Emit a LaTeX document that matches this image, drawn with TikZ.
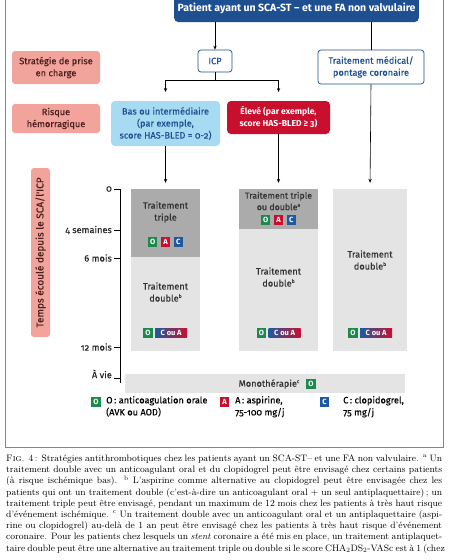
\documentclass[tikz,border=0pt]{standalone}
\usepackage{fontspec}
\setsansfont{Fira Sans}[Numbers=OldStyle]
\newfontfamily\medsans{Fira Sans}[FakeBold=0.3, Numbers=OldStyle]
\usetikzlibrary{arrows.meta,positioning}
\definecolor{framec}{HTML}{8C8C50}
\definecolor{navy}{HTML}{1D4F91}
\definecolor{sky}{HTML}{A7DBF1}
\definecolor{crimson}{HTML}{C8102E}
\definecolor{salmon}{HTML}{F2A39B}
\definecolor{maroon}{HTML}{4A1E1E}
\definecolor{dgrey}{HTML}{ABABAB}
\definecolor{lgrey}{HTML}{E4E4E4}
\definecolor{ogreen}{HTML}{1B8A4B}
\definecolor{ared}{HTML}{C8102E}
\definecolor{cblue}{HTML}{1F5A9E}
\tikzset{t/.style={font=\medsans\fontsize{9.2}{12}\selectfont}}
\tikzset{tb/.style={font=\sffamily\bfseries\fontsize{8.6}{12}\selectfont}}
\tikzset{pinkbox/.style={fill=salmon, text=maroon, rounded corners=3pt, align=center, inner sep=1pt, t}}
\tikzset{navybox/.style={draw=navy, line width=0.7pt, fill=white, text=navy, rounded corners=3pt, align=center, inner sep=1pt, t}}
\tikzset{colbox/.style={inner sep=0pt}}
\tikzset{coltext/.style={align=center, text=black!80, t}}
\tikzset{arr/.style={-{Stealth[length=4pt,width=3.4pt]}, line width=0.6pt}}
\tikzset{badge/.style={text=white, font=\sffamily\bfseries\fontsize{7.5}{7.5}\selectfont, minimum size=9.5pt, inner sep=0.5pt}}
\tikzset{bO/.style={badge, fill=ogreen}}
\tikzset{bA/.style={badge, fill=ared}}
\tikzset{bC/.style={badge, fill=cblue}}
\tikzset{bCA/.style={badge, left color=cblue, right color=ared, minimum width=32pt}}
\tikzset{tick/.style={t, text=black!85, inner sep=0pt}}
\newcommand{\capline}[1]{\makebox[436pt][s]{#1}}
\newcommand{\notemark}[1]{\raisebox{0.75ex}{\fontsize{5}{5}\selectfont #1}}

\begin{document}
\begin{tikzpicture}[x=1pt,y=-1pt]
  \useasboundingbox (0,0) rectangle (449,560);
  \draw [framec, line width=0.8pt] (5,-10) rectangle (443,447);

  % flow chart
  \node [fill=navy, text=white, rounded corners=4pt, minimum width=243pt, minimum height=28pt,
    font=\sffamily\bfseries\fontsize{10.5}{12}\selectfont] (title) at (296.5,8) {Patient ayant un SCA-ST -- et une FA non valvulaire};
  \node [navybox, minimum width=34pt, minimum height=22pt] (icp) at (215,61) {ICP};
  \node [navybox, minimum width=106pt, minimum height=34pt] (medical) at (371,67) {Traitement médical/\\pontage coronaire};
  \node [pinkbox, minimum width=88pt, minimum height=33pt] (strategy) at (56,67.5) {Stratégie de prise\\en charge};
  \node [pinkbox, minimum width=88pt, minimum height=29pt] (risk) at (56,118.5) {Risque\\hémorragique};
  \node [fill=sky, text=navy, rounded corners=4pt, align=center, inner sep=1pt, t,
    minimum width=109pt, minimum height=45pt] (low) at (165.5,123.5) {Bas ou intermédiaire\\(par exemple,\\score HAS-BLED = 0-2)};
  \node [fill=crimson, text=white, rounded corners=4pt, align=center, inner sep=1pt, tb,
    minimum width=103pt, minimum height=33pt] (high) at (278.5,117.5) {Élevé (par exemple,\\score HAS-BLED ≥ 3)};

  \coordinate (split) at (215,80);
  \coordinate (tolow) at (165.5,92);
  \coordinate (tohigh) at (278.5,92);
  \draw [arr] (icp.north |- title.south) -- (icp.north);
  \draw [line width=0.6pt] (medical.north |- title.south) -- (medical.north);
  \draw [line width=0.6pt] (icp.south) -- (split);
  \draw [arr] (split) -| (tolow);
  \draw [arr] (split) -| (tohigh);

  % treatment columns
  \node [colbox, fill=dgrey, minimum width=69pt, minimum height=68pt] (c1top) at (165.5,223) {};
  \node [colbox, fill=lgrey, minimum width=69pt, minimum height=94pt] (c1bot) at (165.5,304) {};
  \node [colbox, fill=dgrey, minimum width=79pt, minimum height=40pt] (c2top) at (278.5,209) {};
  \node [colbox, fill=lgrey, minimum width=79pt, minimum height=122pt] (c2bot) at (278.5,290) {};
  \node [colbox, fill=lgrey, minimum width=74pt, minimum height=162pt] (c3) at (370,270) {};
  \node [colbox, fill=lgrey, minimum width=280pt, minimum height=19pt] (mono) at (265,383.5) {};

  \draw [arr, shorten >=6pt] (low.south) -- (c1top.north);
  \draw [arr, shorten >=6pt] (high.south) -- (c2top.north);
  \draw [arr, shorten >=6pt] (medical.south) -- (c3.north);

  \node [coltext] (c1a) at (165.5,212) {Traitement\\triple};
  \node [bA] (c1A) at (165.5,242) {A};
  \node [bO, left=3pt of c1A] (c1O) {O};
  \node [bC, right=3pt of c1A] (c1C) {C};
  \node [coltext] (c1b) at (165.5,292) {Traitement\\double\notemark{b}};
  \node [bO] (c1O2) at (148,333) {O};
  \node [bCA, right=2pt of c1O2] (c1CA) {C ou A};

  \node [coltext, inner sep=0pt, font=\medsans\fontsize{8.8}{11.5}\selectfont] (c2a) at (278.5,201) {Traitement triple\\ou double\notemark{a}};
  \node [bA] (c2A) at (278.5,220) {A};
  \node [bO, left=3pt of c2A] (c2O) {O};
  \node [bC, right=3pt of c2A] (c2C) {C};
  \node [coltext] (c2b) at (278.5,277) {Traitement\\double\notemark{b}};
  \node [bO] (c2O2) at (261.5,333) {O};
  \node [bCA, right=2pt of c2O2] (c2CA) {C ou A};

  \node [coltext] (c3a) at (370,260) {Traitement\\double\notemark{b}};
  \node [bO] (c3O) at (353,333) {O};
  \node [bCA, right=2pt of c3O] (c3CA) {C ou A};

  \node [coltext] (monot) at (269,384) {Monothérapie\notemark{c}};
  \node [bO] (monoO) at (311,384) {O};

  % time scale
  \node [fill=salmon, text=maroon, rounded corners=3pt, rotate=90, minimum width=169pt, minimum height=19pt,
    inner sep=0pt, font=\medsans\fontsize{10}{12}\selectfont] (time) at (40.5,252.5) {Temps écoulé depuis le SCA/l'ICP};
  \draw [line width=0.6pt] (120,189) -- (120,383);
  \foreach \y/\lab in {189/0, 230/4 semaines, 258/6 mois, 347/12 mois} {
    \draw [line width=0.6pt] (114,\y) -- (120,\y);
    \node [tick, anchor=east] at (112,\y) {\lab};
  }
  \draw [line width=0.6pt] (114,378) -- (120,378);
  \node [tick, anchor=east] (life) at (112,374) {À vie};

  % legend
  \node [bO] (lO) at (96,402) {O};
  \node [t, align=left, anchor=north west, inner sep=0pt] (lOt) at (106,396) {O\,: anticoagulation orale\\(AVK ou AOD)};
  \node [bA] (lA) at (224.5,402) {A};
  \node [t, align=left, anchor=north west, inner sep=0pt] (lAt) at (235,396) {A\,: aspirine,\\75-100 mg/j};
  \node [bC] (lC) at (324.5,402) {C};
  \node [t, align=left, anchor=north west, inner sep=0pt] (lCt) at (343,396) {C\,: clopidogrel,\\75 mg/j};

  % caption
  \node [anchor=north west, inner sep=0pt, align=left, font=\fontsize{9.3}{11.2}\selectfont] (caption) at (6,454.5) {%
    \capline{\textsc{Fig.} 4\,: Stratégies antithrombotiques chez les patients ayant un SCA-ST– et une FA non valvulaire. \textsuperscript{a} Un}\\
    \capline{traitement double avec un anticoagulant oral et du clopidogrel peut être envisagé chez certains patients}\\
    \capline{(à risque ischémique bas). \textsuperscript{b} L'aspirine comme alternative au clopidogrel peut être envisagée chez les}\\
    \capline{patients qui ont un traitement double (c'est-à-dire un anticoagulant oral + un seul antiplaquettaire)\,; un}\\
    \capline{traitement triple peut être envisagé, pendant un maximum de 12 mois chez les patients à très haut risque}\\
    \capline{d'événement ischémique. \textsuperscript{c} Un traitement double avec un anticoagulant oral et un antiplaquettaire (aspi-}\\
    \capline{rine ou clopidogrel) au-delà de 1 an peut être envisagé chez les patients à très haut risque d'événement}\\
    \capline{coronaire. Pour les patients chez lesquels un \textit{stent} coronaire a été mis en place, un traitement antiplaquet-}\\
    \capline{taire double peut être une alternative au traitement triple ou double si le score CHA\textsubscript{2}DS\textsubscript{2}-VASc est à 1 (chez}};
\end{tikzpicture}
\end{document}
